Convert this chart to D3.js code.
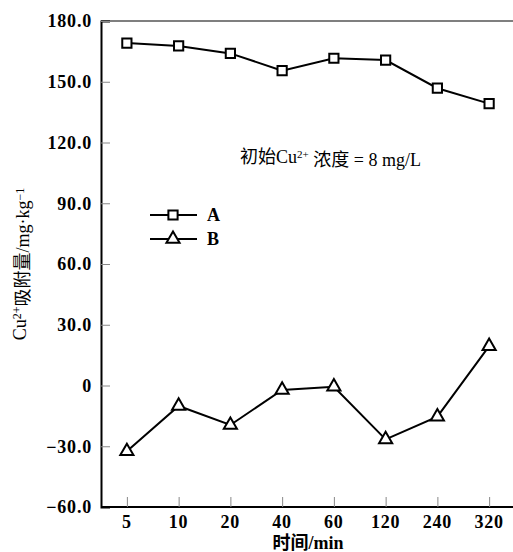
<!DOCTYPE html>
<html>
<head>
<meta charset="utf-8">
<script src="https://cdn.jsdelivr.net/npm/d3@7"></script>
<style>
  html, body { margin: 0; padding: 0; background: #fff; }
</style>
</head>
<body>
<div id="chart"></div>
<script>
// data
const times = ["5", "10", "20", "40", "60", "120", "240", "320"];
const seriesA = [169.1, 167.7, 164.0, 155.5, 161.6, 160.7, 146.8, 139.2];
const seriesB = [-32.5, -10.1, -19.5, -2.2, -0.6, -26.6, -15.4, 19.4];
const yTicks = [-60, -30, 0, 30, 60, 90, 120, 150, 180];

const width = 513, height = 552;
const margin = { top: 21, right: 0, bottom: 45, left: 101 };
const serif = "'Liberation Serif', 'Times New Roman', 'Noto Sans CJK SC', serif";

const svg = d3.select("#chart")
  .append("svg")
  .attr("width", width)
  .attr("height", height)
  .style("font-family", serif);

const x = d3.scalePoint()
  .domain(times)
  .range([margin.left, width + 2])
  .padding(0.5);

const y = d3.scaleLinear()
  .domain([-60, 180])
  .range([height - margin.bottom, margin.top]);

// top frame line
svg.append("line")
  .attr("x1", margin.left).attr("x2", width)
  .attr("y1", y(180)).attr("y2", y(180))
  .attr("stroke", "#555").attr("stroke-width", 1.5);

// y axis (ticks point inward)
const yAxis = svg.append("g")
  .attr("transform", `translate(${margin.left},0)`)
  .call(d3.axisRight(y).tickValues(yTicks).tickSize(9).tickFormat(() => ""));
yAxis.select(".domain").attr("stroke", "#000").attr("stroke-width", 2);
yAxis.selectAll(".tick line").attr("stroke", "#888").attr("stroke-width", 1);

svg.append("g").selectAll("text")
  .data(yTicks)
  .enter()
  .append("text")
  .style("font-family", serif)
  .attr("x", 92)
  .attr("y", d => y(d))
  .attr("dy", "0.35em")
  .attr("text-anchor", "end")
  .attr("font-size", 18)
  .attr("letter-spacing", 0.8)
  .attr("font-weight", "bold")
  .text(d => d === 0 ? "0" : d3.format(".1f")(d).replace("-", "\u2212"));

// x axis (ticks point up, inside)
const xAxis = svg.append("g")
  .attr("transform", `translate(0,${y(-60)})`)
  .call(d3.axisTop(x).tickSize(10).tickFormat(() => "").tickSizeOuter(0));
xAxis.select(".domain").attr("stroke", "#000").attr("stroke-width", 2)
  .attr("d", `M${margin.left},0H${width}`);
xAxis.selectAll(".tick line").attr("stroke", "#888").attr("stroke-width", 1);

svg.append("g").selectAll("text")
  .data(times)
  .enter()
  .append("text")
  .style("font-family", serif)
  .attr("x", d => x(d))
  .attr("y", y(-60) + 15)
  .attr("dy", "0.35em")
  .attr("text-anchor", "middle")
  .attr("font-size", 18)
  .attr("letter-spacing", 0.8)
  .attr("font-weight", "bold")
  .text(d => d);

// axis titles
svg.append("text")
  .style("font-family", serif)
  .attr("x", 308)
  .attr("y", 543)
  .attr("dy", "0.35em")
  .attr("text-anchor", "middle")
  .attr("font-size", 18)
  .attr("font-weight", "bold")
  .text("时间/min");

const yTitle = svg.append("text")
  .style("font-family", serif)
  .attr("transform", `translate(20,${(y(180) + y(-60)) / 2}) rotate(-90)`)
  .attr("dy", "0.35em")
  .attr("text-anchor", "middle")
  .attr("font-size", 18)
  .attr("fill", "#000");
yTitle.append("tspan").text("Cu");
yTitle.append("tspan").attr("dy", "-0.45em").attr("font-size", 12).text("2+");
yTitle.append("tspan").attr("dy", "0.45em").text("吸附量/mg·kg");
yTitle.append("tspan").attr("dy", "-0.45em").attr("font-size", 12).text("\u22121");

// annotation
const note = svg.append("text")
  .style("font-family", serif)
  .attr("x", 240)
  .attr("y", 157)
  .attr("dy", "0.35em")
  .attr("font-size", 18)
  .attr("fill", "#000");
note.append("tspan").text("初始Cu");
note.append("tspan").attr("dy", "-0.45em").attr("font-size", 11).text("2+");
note.append("tspan").attr("dy", "0.45em").text(" 浓度 = 8 mg/L");

// lines and markers
const line = d3.line()
  .x((d, i) => x(times[i]))
  .y(d => y(d));

const square = d3.symbol().type(d3.symbolSquare).size(85);
const triangle = d3.symbol().type(d3.symbolTriangle).size(75);

function drawSeries(values, sym) {
  svg.append("path")
    .datum(values)
    .attr("fill", "none")
    .attr("stroke", "#000")
    .attr("stroke-width", 2)
    .attr("d", line);

  svg.append("g").selectAll("path")
    .data(values)
    .enter()
    .append("path")
    .attr("d", sym)
    .attr("transform", (d, i) => `translate(${x(times[i])},${y(d)})`)
    .attr("fill", "#fff")
    .attr("stroke", "#000")
    .attr("stroke-width", 2);
}

drawSeries(seriesA, square);
drawSeries(seriesB, triangle);

// legend
const legendItems = [
  { name: "A", sym: square, y: 215 },
  { name: "B", sym: triangle, y: 239 }
];
const legend = svg.append("g").selectAll("g")
  .data(legendItems)
  .enter()
  .append("g")
  .attr("transform", d => `translate(150,${d.y})`);

legend.append("line")
  .attr("x1", 0).attr("x2", 47)
  .attr("stroke", "#000").attr("stroke-width", 2);
legend.append("path")
  .attr("d", d => d.sym())
  .attr("transform", "translate(23,0)")
  .attr("fill", "#fff")
  .attr("stroke", "#000")
  .attr("stroke-width", 2);
legend.append("text")
  .style("font-family", serif)
  .attr("x", 57)
  .attr("dy", "0.35em")
  .attr("font-size", 18)
  .attr("font-weight", "bold")
  .text(d => d.name);
</script>
</body>
</html>
